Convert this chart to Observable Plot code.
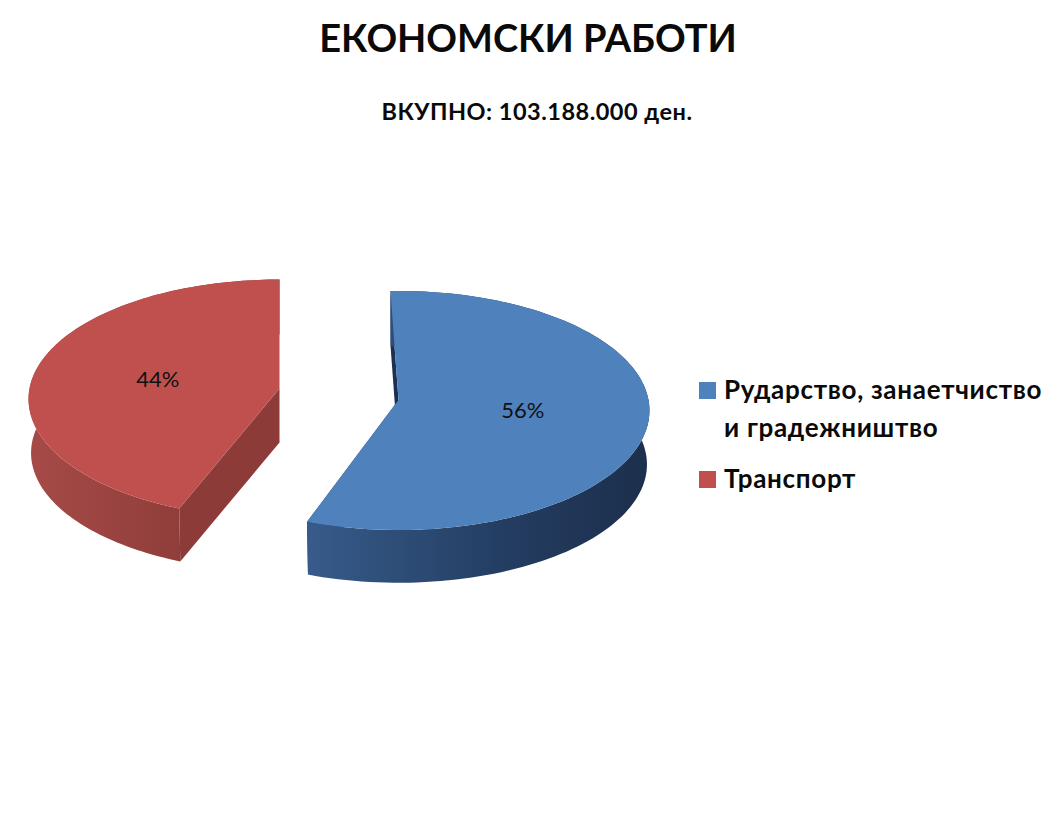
<!DOCTYPE html>
<html>
<head>
<meta charset="utf-8">
<script src="https://cdn.jsdelivr.net/npm/d3@7"></script>
<script src="https://cdn.jsdelivr.net/npm/@observablehq/plot@0.6"></script>
<style>
  html, body { margin: 0; padding: 0; background: #fff; width: 1059px; height: 828px; overflow: hidden; }
  #page { position: relative; width: 1059px; height: 828px; font-family: Lato, "Open Sans", sans-serif; color: #0a0a0a; }
  #head { position: relative; height: 140px; }
  h1 { position: absolute; left: 0; width: 1056px; top: 12px; margin: 0; text-align: center; font-size: 38px; line-height: 50px; font-weight: 700; }
  h2 { position: absolute; left: 0; width: 1074px; top: 96px; margin: 0; text-align: center; font-size: 23.5px; letter-spacing: 0.5px; line-height: 30px; font-weight: 700; }
  #legend { position: absolute; left: 699px; top: 371px; width: 360px; font-size: 26px; letter-spacing: 0.7px; font-weight: 700; line-height: 37.5px; }
  .row { position: relative; padding-left: 25px; margin-bottom: 13.5px; white-space: nowrap; }
  .sw { position: absolute; left: 0; top: 11px; width: 17px; height: 17px; }
  svg { display: block; }
</style>
</head>
<body>
<div id="page">
  <div id="head"><h1 id="title"></h1><h2 id="subtitle"></h2></div>
  <div id="chart"></div>
  <div id="legend"></div>
</div>
<script>
const titleText = "ЕКОНОМСКИ РАБОТИ";
const subtitleText = "ВКУПНО: 103.188.000 ден.";
const categories = ["Рударство, занаетчиство\nи градежништво", "Транспорт"];
const shares = [56, 44];
const colors = ["#4f81bd", "#c0504d"];
const wallGradients = ["blueWall", "redWall"];
const cutColors = ["#1c3052", "#8c3b39"];
const startAngles = [-2, 201.6];
const centersX = [398, 279];
const centersY = [399.5, 388];

// Perspective disc: radii and foreshortening
const RX = 250, RY = 118.6, K = 0.088, DEPTH = 54, BOTTOM_SCALE = 0.99;
const rad = Math.PI / 180;

function project(i, angle, f = 1, lower = false) {
  const X = Math.sin(angle * rad) * f, Z = Math.cos(angle * rad) * f, w = 1 + K * Z;
  const s = lower ? BOTTOM_SCALE : 1;
  return {
    x: centersX[i] + RX * s * X / w,
    y: centersY[i] - RY * s * Z / w + (lower ? DEPTH : 0)
  };
}

const tops = [], walls = [], cuts = [], labels = [];
shares.forEach((share, i) => {
  const a0 = startAngles[i], sweep = share / 100 * 360, a1 = a0 + sweep;
  const arc = d3.range(0, 121).map(k => a0 + sweep * k / 120);
  const apex = project(i, 0, 0), apexLow = project(i, 0, 0, true);
  const key = String(i);
  tops.push(...[apex, ...arc.map(a => project(i, a)), apex].map(p => ({...p, key})));
  walls.push(...[...arc.map(a => project(i, a)), ...arc.slice().reverse().map(a => project(i, a, 1, true))].map(p => ({...p, key})));
  [a0, a1].forEach((a, c) => {
    cuts.push(...[apex, project(i, a), project(i, a, 1, true), apexLow].map(p => ({...p, key: key + "-" + c})));
  });
  labels.push({...project(i, (a0 + a1) / 2, 0.5), text: share + "%"});
});

function defs() {
  const d = d3.create("svg:defs");
  const add = (id, stops) => {
    const g = d.append("linearGradient").attr("id", id);
    stops.forEach(([o, c]) => g.append("stop").attr("offset", o).attr("stop-color", c));
  };
  add("blueWall", [[0, "#375b8c"], [0.25, "#2e4e78"], [0.6, "#233c60"], [1, "#1c2f4c"]]);
  add("redWall", [[0, "#a64a47"], [0.3, "#9b4441"], [0.6, "#903e3b"], [1, "#8a3a38"]]);
  return d.node();
}

const slice = (rows, i) => rows.filter(r => r.key.startsWith(String(i)));
const cutRows = (i, c) => cuts.filter(r => r.key === i + "-" + c);

const marks = [defs];
shares.forEach((_, i) => {
  marks.push(
    Plot.line(cutRows(i, 0), {x: "x", y: "y", fill: cutColors[i], stroke: "none", curve: "linear"}),
    Plot.line(cutRows(i, 1), {x: "x", y: "y", fill: cutColors[i], stroke: "none", curve: "linear"}),
    Plot.line(slice(walls, i), {x: "x", y: "y", fill: `url(#${wallGradients[i]})`, stroke: "none", curve: "linear"}),
    Plot.line(slice(tops, i), {x: "x", y: "y", fill: colors[i], stroke: "none", curve: "linear"})
  );
});
marks.push(Plot.text(labels, {x: "x", y: "y", dy: 2, text: "text", fontSize: 22, fill: "#111", fontFamily: "Lato, 'Open Sans', sans-serif"}));

const chart = Plot.plot({
  width: 1059, height: 688,
  margin: 0,
  x: {domain: [0, 1059], range: [0, 1059], axis: null},
  y: {domain: [140, 828], range: [0, 688], axis: null},
  marks
});
document.getElementById("chart").append(chart);
document.getElementById("title").textContent = titleText;
document.getElementById("subtitle").textContent = subtitleText;
const legend = d3.select("#legend");
categories.forEach((c, i) => {
  const row = legend.append("div").attr("class", "row");
  row.append("span").attr("class", "sw").style("background", colors[i]);
  c.split("\n").forEach(line => row.append("div").text(line));
});
</script>
</body>
</html>
